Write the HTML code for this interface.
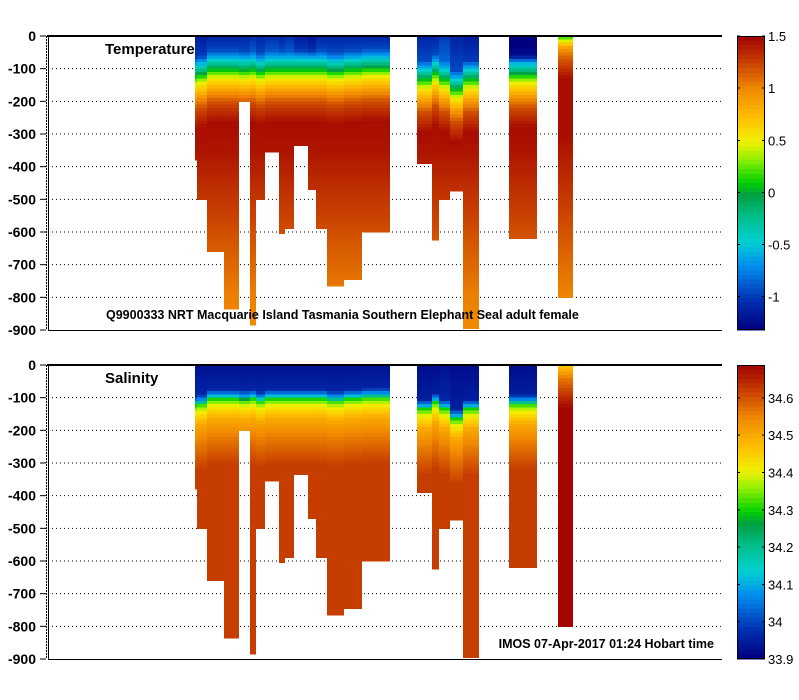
<!DOCTYPE html>
<html><head><meta charset="utf-8">
<style>
body{margin:0;background:#fff;}
svg{display:block;font-family:"Liberation Sans",sans-serif;}
</style></head>
<body>
<svg id="chart" width="799" height="700" viewBox="0 0 799 700" xmlns="http://www.w3.org/2000/svg">
<g id="panels"></g>
</svg>
<script>
// ---- data ----
const profileStartDay = [6.11,6.19,6.61,7.31,7.93,8.39,8.64,9.01,9.60,9.85,10.22,10.80,11.13,11.59,12.30,13.04,15.33,15.95,16.24,16.70,17.24,19.15,21.19];
const profileEndDay   = [6.19,6.61,7.31,7.93,8.39,8.64,9.01,9.60,9.85,10.22,10.80,11.13,11.59,12.30,13.04,14.21,15.95,16.24,16.70,17.24,17.91,20.32,21.81];
const maxDepth        = [380,500,660,835,200,885,500,355,605,590,335,470,590,765,745,600,390,625,500,475,895,620,800];
const mixedLayerDepth = [125,120,104,104,107,104,112,104,104,104,104,104,104,110,104,100,135,115,135,165,135,120,5];
const surfaceTemp     = [-1.05,-1.05,-1.0,-1.0,-1.0,-0.95,-1.0,-0.95,-1.0,-0.95,-1.05,-1.1,-1.0,-1.0,-1.0,-1.0,-1.0,-1.0,-0.9,-1.0,-1.05,-1.3,0.1];
const surfaceSal      = [33.93,33.93,33.93,33.93,33.93,33.93,33.93,33.93,33.93,33.93,33.93,33.93,33.93,33.93,33.93,33.93,33.92,33.92,33.93,33.92,33.92,33.92,34.45];
const depthTicks = [0,-100,-200,-300,-400,-500,-600,-700,-800,-900];
const tempTicks = [1.5,1,0.5,0,-0.5,-1];
const salTicks = [34.6,34.5,34.4,34.3,34.2,34.1,34,33.9];

// ---- helpers ----
const NS="http://www.w3.org/2000/svg";
const X0=48,X1=722,DAYS=28;
function xScale(d){return X0+(d/DAYS)*(X1-X0);}
const stops=[[0,"#000080"],[0.1,"#0030b0"],[0.22,"#0090f0"],[0.3,"#00d0d0"],[0.38,"#00c090"],[0.46,"#00a040"],[0.5,"#00d000"],[0.58,"#90f000"],[0.64,"#f0f000"],[0.72,"#ffc000"],[0.82,"#f08800"],[0.91,"#c84000"],[1,"#a00000"]];
function hex(h){return [1,3,5].map(i=>parseInt(h.substr(i,2),16));}
function cmap(f){f=Math.max(0,Math.min(1,f));for(let i=1;i<stops.length;i++){if(f<=stops[i][0]){const a=stops[i-1],b=stops[i];const t=(f-a[0])/(b[0]-a[0]);const ca=hex(a[1]),cb=hex(b[1]);return "rgb("+ca.map((v,k)=>Math.round(v+(cb[k]-v)*t)).join(",")+")";}}return stops[stops.length-1][1];}
function lerp(pts,d){if(d<=pts[0][0])return pts[0][1];for(let i=1;i<pts.length;i++){if(d<=pts[i][0]){const a=pts[i-1],b=pts[i];return a[1]+(b[1]-a[1])*(d-a[0])/(b[0]-a[0]);}}return pts[pts.length-1][1];}
function tempAt(i,d){const m=mixedLayerDepth[i],s=surfaceTemp[i];
  if(m<20) return lerp([[0,0.1],[30,0.8],[60,1.1],[130,1.45],[300,1.45],[800,1.0]],d);
  return lerp([[0,s-0.1],[Math.max(0,m-60),s+0.05],[m-35,-0.55],[m,0.05],[m+25,0.5],[m+65,0.9],[m+100,1.2],[m+160,1.45],[350,1.42],[800,1.02],[900,0.98]],d);}
function salAt(i,d){const m=mixedLayerDepth[i],s=surfaceSal[i];
  if(m<20) return lerp([[0,s],[40,34.56],[130,34.68],[900,34.68]],d);
  return lerp([[0,s],[Math.max(0,m-30),s+0.03],[m-10,34.1],[m,34.3],[m+20,34.4],[m+60,34.5],[m+120,34.56],[m+200,34.62],[900,34.62]],d);}
function el(tag,attrs,parent){const e=document.createElementNS(NS,tag);for(const k in attrs)e.setAttribute(k,attrs[k]);parent.appendChild(e);return e;}

const root=document.getElementById('panels');
const panels=[
 {top:36,bot:330,name:'temperature',title:'Temperature',val:tempAt,vmin:-1.32,vmax:1.5,ticks:tempTicks,lab:v=>String(v)},
 {top:365,bot:659,name:'salinity',title:'Salinity',val:salAt,vmin:33.9,vmax:34.688,ticks:salTicks,lab:v=>String(v)}
];
panels.forEach(p=>{
  const g=el('g',{},root);
  
  
  const yS=d=>p.top+(d/900)*(p.bot-p.top);
  depthTicks.forEach(t=>{const y=yS(-t);
    if(t!==0&&t!==-900){const gl=el('line',{x1:X0,x2:X1,y1:y,y2:y,stroke:'#000','stroke-width':1,'stroke-dasharray':'1,3'},g);
      }
    const tk=el('line',{x1:40,x2:46,y1:y,y2:y,stroke:'#000'},g);
    
    const tx=el('text',{x:36,y:y+5,'text-anchor':'end','font-size':14,'font-weight':'bold'},g);tx.textContent=String(t);
    
  });
  const dg=el('g',{'shape-rendering':'crispEdges'},g);
  
  for(let i=0;i<maxDepth.length;i++){
    const xa=xScale(profileStartDay[i]),xb=xScale(profileEndDay[i]);
    for(let d=0;d<maxDepth[i];d+=10){
      const d2=Math.min(d+10,maxDepth[i]);
      const v=p.val(i,d+5);
      const r=el('rect',{x:xa,y:yS(d),width:xb-xa,height:yS(d2)-yS(d)+0.5,fill:cmap((v-p.vmin)/(p.vmax-p.vmin))},dg);
      
    }
  }
  el('line',{x1:X0-1,x2:X1,y1:p.top,y2:p.top,stroke:'#000','stroke-width':2},g);
  el('line',{x1:X0,x2:X1,y1:p.bot+0.5,y2:p.bot+0.5,stroke:'#000','stroke-width':1},g);
  el('line',{x1:X0+0.5,x2:X0+0.5,y1:p.top,y2:p.bot,stroke:'#000','stroke-width':1},g);
  el('line',{x1:46.5,x2:46.5,y1:p.top,y2:p.bot,stroke:'#000','stroke-width':1,'stroke-dasharray':'2,1'},g);
  const tt=el('text',{x:105,y:p.top+18,'font-size':15,'font-weight':'bold'},g);tt.textContent=p.title;
  
  const cb=el('g',{'shape-rendering':'crispEdges'},g);
  
  const N=64,h=(p.bot-p.top)/N;
  for(let k=0;k<N;k++){el('rect',{x:737,y:p.top+k*h,width:28,height:h+0.6,fill:cmap(1-(k+0.5)/N)},cb);}
  el('rect',{x:737.5,y:p.top+0.5,width:27,height:p.bot-p.top-1,fill:'none',stroke:'#000'},cb);
  p.ticks.forEach(t=>{const y=p.top+(p.vmax-t)/(p.vmax-p.vmin)*(p.bot-p.top);
    el('line',{x1:737,x2:740,y1:y,y2:y,stroke:'#000'},cb);el('line',{x1:762,x2:765,y1:y,y2:y,stroke:'#000'},cb);
    const l=el('text',{x:768,y:y+5,'font-size':13},cb);l.textContent=p.lab(t);
    });
});
const a=el('text',{x:106,y:319,'font-size':12.5,'font-weight':'bold'},root);a.textContent='Q9900333 NRT Macquarie Island Tasmania Southern Elephant Seal adult female';

const b=el('text',{x:714,y:648,'font-size':12.5,'font-weight':'bold','text-anchor':'end'},root);b.textContent='IMOS 07-Apr-2017 01:24 Hobart time';

</script>
</body></html>
